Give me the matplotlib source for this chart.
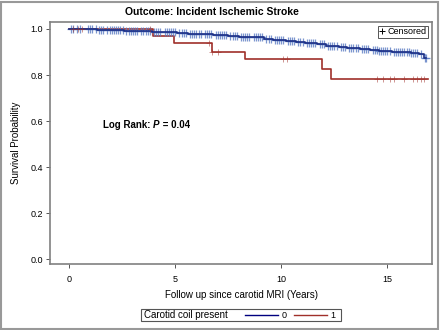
import numpy as np
import matplotlib.pyplot as plt
from matplotlib.lines import Line2D
from matplotlib.patches import Rectangle

plt.rcParams['font.family'] = ['Liberation Sans', 'DejaVu Sans']

# Kaplan-Meier steps
t0 = [0.0, 0.6, 1.3, 1.9, 2.6, 3.3, 3.9, 4.4, 5.1, 5.6, 6.3, 6.8, 7.5, 8.0,
      8.6, 9.2, 9.6, 10.2, 10.7, 11.1, 11.7, 12.1, 12.7, 13.1, 13.7, 14.2,
      14.6, 15.2, 15.7, 16.1, 16.5, 16.7, 16.8]
s0 = [1.0, 0.998, 0.996, 0.994, 0.992, 0.990, 0.988, 0.985, 0.982, 0.979,
      0.976, 0.973, 0.970, 0.967, 0.963, 0.958, 0.953, 0.948, 0.943, 0.938,
      0.933, 0.928, 0.923, 0.918, 0.913, 0.909, 0.905, 0.901, 0.898, 0.896,
      0.893, 0.875, 0.875]
t1 = [0.0, 3.95, 4.92, 6.73, 8.3, 11.9, 12.35, 16.9]
s1 = [1.0, 0.971, 0.941, 0.902, 0.869, 0.827, 0.784, 0.784]

# censored observations
cens0 = [0.1, 0.2, 0.35, 0.5, 0.9, 1.0, 1.1, 1.25, 1.4, 1.5, 1.6, 1.8, 1.95,
         2.0, 2.1, 2.2, 2.3, 2.4, 2.55, 2.7, 2.8, 2.9, 3.0, 3.1, 3.2, 3.4,
         3.5, 3.6, 3.7, 3.8, 4.0, 4.1, 4.2, 4.3, 4.5, 4.6, 4.7, 4.8, 4.9,
         5.0, 5.2, 5.3, 5.4, 5.5, 5.7, 5.8, 5.9, 6.0, 6.1, 6.2, 6.4, 6.5,
         6.6, 6.7, 6.9, 7.0, 7.1, 7.2, 7.3, 7.4, 7.6, 7.7, 7.8, 7.9, 8.1,
         8.2, 8.3, 8.4, 8.5, 8.7, 8.8, 8.9, 9.0, 9.1, 9.3, 9.4, 9.5, 9.7,
         9.8, 9.9, 10.0, 10.1, 10.3, 10.4, 10.5, 10.6, 10.8, 10.9, 11.0,
         11.2, 11.3, 11.4, 11.5, 11.6, 11.8, 11.9, 12.0, 12.2, 12.3, 12.4,
         12.5, 12.6, 12.8, 12.9, 13.0, 13.2, 13.3, 13.4, 13.5, 13.6, 13.8,
         13.9, 14.0, 14.1, 14.3, 14.4, 14.5, 14.6, 14.7, 14.8, 14.9, 15.0,
         15.1, 15.3, 15.4, 15.5, 15.6, 15.7, 15.8, 15.9, 16.0, 16.1, 16.2,
         16.3, 16.4, 16.6, 16.75, 16.8]
cens1 = [0.2, 0.4, 0.6, 3.8, 6.6, 6.75, 7.0, 10.1, 10.25, 14.5, 14.8, 15.1,
         15.3, 15.8, 16.2, 16.4, 16.6, 16.7]

c_blue = '#1c2f86'
c_blue_m = '#5b7cc4'
c_red = '#a0302a'


def surv_at(t, ts, ss):
    i = np.searchsorted(ts, t, side='right') - 1
    return np.array(ss)[i]


W, H = 440, 330
fig = plt.figure(figsize=(4.4, 3.3), dpi=100)
ax = fig.add_axes([50 / W, 1 - 264 / H, 382 / W, 242 / H])

ax.step(t1, s1, where='post', color=c_red, lw=1.2, zorder=2)
ax.plot(cens0, surv_at(cens0, t0, s0), ls='none', marker='+', ms=5.5,
        mew=0.9, color=c_blue_m, alpha=0.8, zorder=3)
ax.step(t0, s0, where='post', color=c_blue, lw=1.2, zorder=4)
ax.plot(cens1, surv_at(cens1, t1, s1), ls='none', marker='+', ms=4,
        mew=0.6, color=c_red, alpha=0.6, zorder=4)

ax.set_xlim(-0.9, 17.1)
ax.set_ylim(-0.02, 1.03)
ax.set_xticks([0, 5, 10, 15])
ax.set_yticks([0.0, 0.2, 0.4, 0.6, 0.8, 1.0])
ax.set_yticklabels(['0.0', '0.2', '0.4', '0.6', '0.8', '1.0'])
ax.tick_params(labelsize=6.5, length=3, width=0.7, color='#555555', pad=2)
ax.tick_params(axis='x', pad=5)
for sp in ax.spines.values():
    sp.set_color('#808080')
    sp.set_linewidth(1.2)

ax.set_xlabel('Follow up since carotid MRI (Years)', fontsize=7, labelpad=4)
ax.set_ylabel('Survival Probability', fontsize=7, labelpad=7)
fig.text(212 / W, 1 - 12 / H, 'Outcome: Incident Ischemic Stroke',
         fontsize=7.5, fontweight='bold', ha='center', va='center')

# log rank annotation, P in bold italic
lr = ax.text(1.6, 0.585, 'Log Rank: ', fontsize=7, fontweight='bold',
             va='center', ha='left')
lp = ax.annotate('P', xy=(1, 0), xycoords=lr, va='bottom', ha='left',
                 fontsize=7, fontweight='bold', fontstyle='italic')
ax.annotate(' = 0.04', xy=(1, 0), xycoords=lp, va='bottom', ha='left',
            fontsize=7, fontweight='bold')

leg = ax.legend(handles=[Line2D([], [], ls='none', marker='+', color='black',
                                ms=4, mew=0.7)],
                labels=['Censored'], loc='upper right', fontsize=6.5,
                handlelength=0.6, handletextpad=0.3, borderpad=0.2,
                borderaxespad=0.4, fancybox=False, framealpha=1)
leg.get_frame().set_edgecolor('#555555')
leg.get_frame().set_linewidth(0.7)

# bottom legend box
fig.patches.append(Rectangle((141 / W, 1 - 321 / H), 200 / W, 12 / H,
                             transform=fig.transFigure, fill=False,
                             edgecolor='#555555', lw=0.8))
fig.text(144 / W, 1 - 315 / H, 'Carotid coil present', fontsize=7,
         va='center', ha='left')
fig.add_artist(Line2D([245 / W, 278 / W], [1 - 315 / H] * 2, color='#00007f',
                      lw=1, transform=fig.transFigure))
fig.text(284 / W, 1 - 315 / H, '0', fontsize=6.5, va='center', ha='center')
fig.add_artist(Line2D([294 / W, 327 / W], [1 - 315 / H] * 2, color=c_red,
                      lw=1, transform=fig.transFigure))
fig.text(333 / W, 1 - 315 / H, '1', fontsize=6.5, va='center', ha='center')

# outer frame
fig.patches.append(Rectangle((1 / W, 1 / H), 437 / W, 327 / H,
                             transform=fig.transFigure, fill=False,
                             edgecolor='#999999', lw=1.5))

plt.savefig('out.png', dpi=100)
